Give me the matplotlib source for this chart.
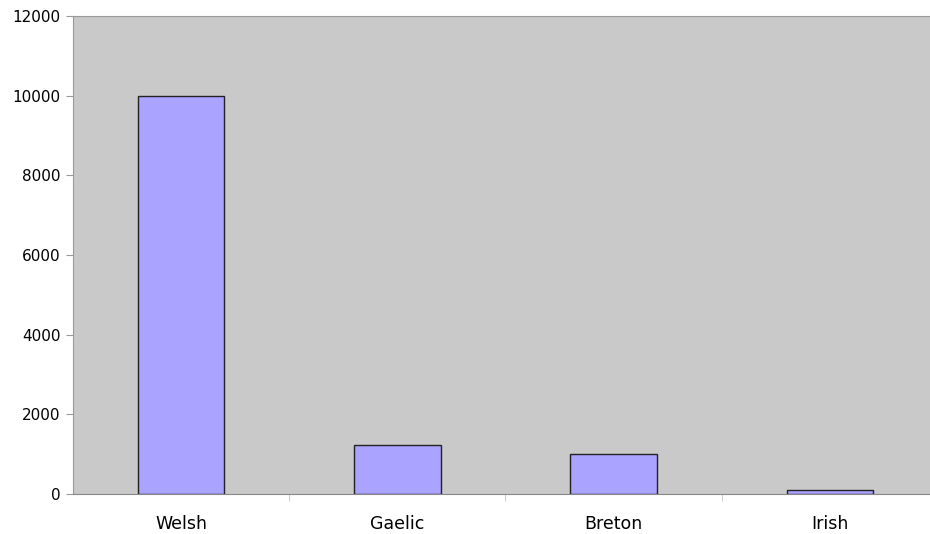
import numpy as np
import matplotlib.pyplot as plt

# Data
languages = ["Welsh", "Gaelic", "Breton", "Irish"]
speakers = [10000, 1220, 1000, 100]

fig = plt.figure(figsize=(9.3, 5.34), dpi=100)
ax = fig.add_axes([0.0785, 0.075, 0.930, 0.895])

x = np.arange(len(languages))
ax.bar(x, speakers, width=0.4, color="#aaa3ff", edgecolor="#222222", linewidth=1.0, zorder=3)

ax.set_facecolor("#c9c9c9")
ax.set_xlim(-0.5, len(languages) - 0.5)
ax.set_ylim(0, 12000)
ax.set_yticks(range(0, 12001, 2000))

# category labels centred under bars, tick marks on the category boundaries
ax.set_xticks(x)
ax.set_xticklabels(languages, fontsize=12.5)
ax.tick_params(axis="x", length=0, pad=15)
ax.set_xticks(np.arange(0.5, len(languages) - 0.5, 1), minor=True)
ax.tick_params(axis="x", which="minor", length=5, color="#c0c0c0", direction="out")
ax.tick_params(axis="y", labelsize=11, length=5, color="#999999", pad=4)

for side in ["top", "left"]:
    ax.spines[side].set_color("#999999")
ax.spines["bottom"].set_color("#888888")
ax.spines["right"].set_visible(False)

plt.savefig("out.png", dpi=100)
plt.close()
